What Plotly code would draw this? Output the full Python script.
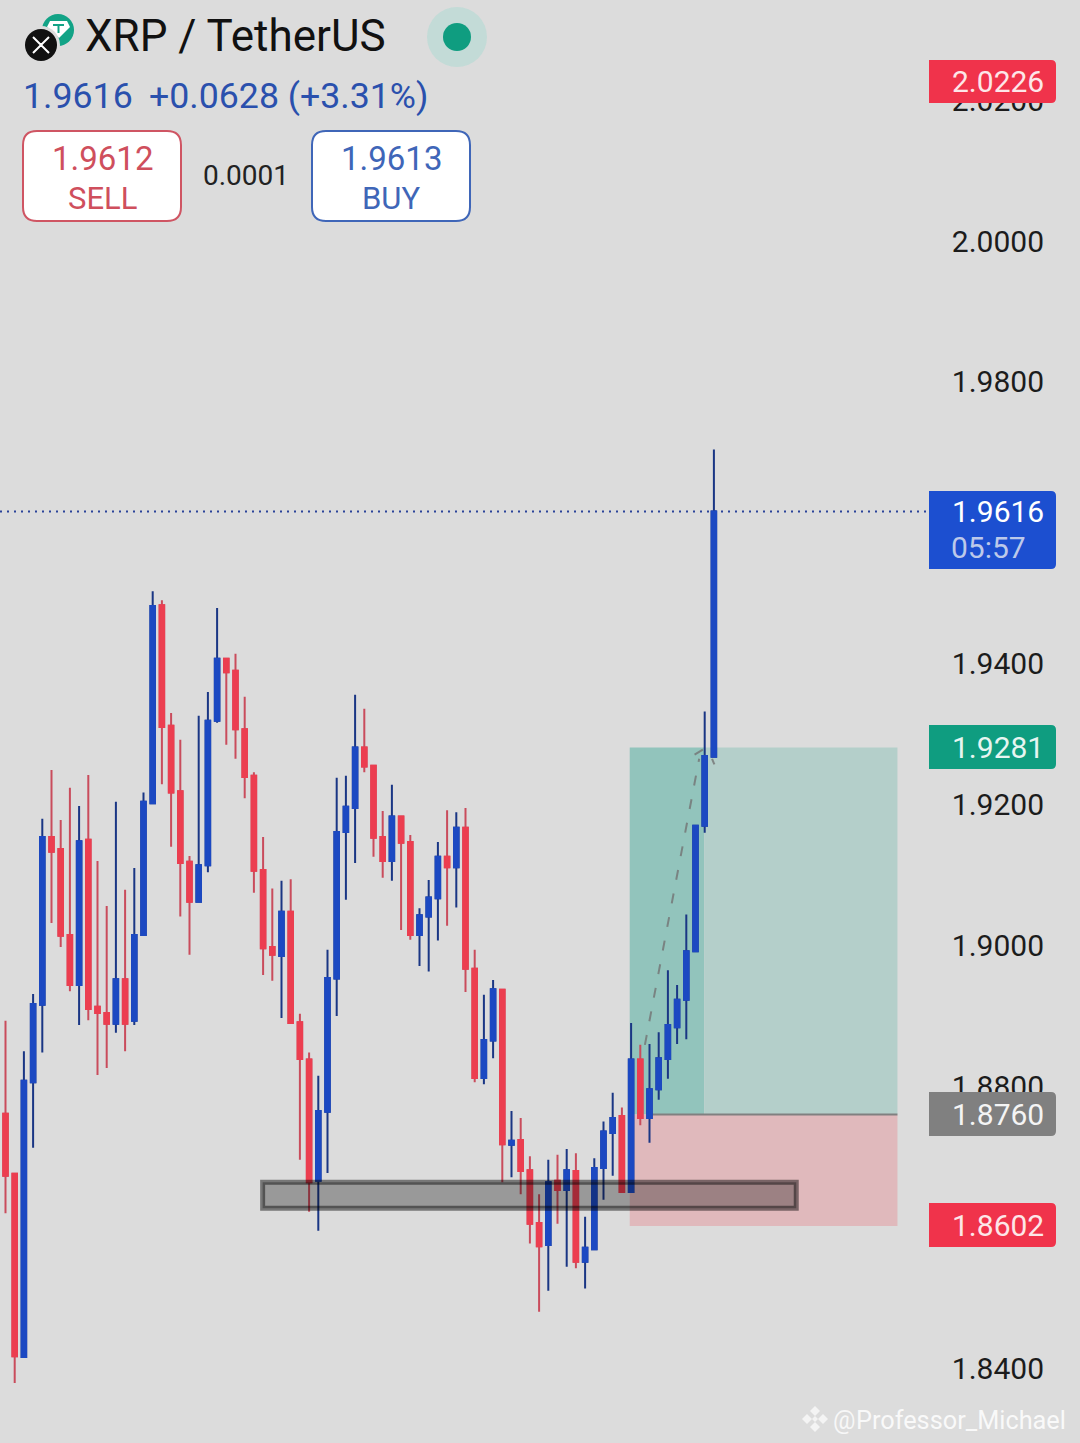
import plotly.graph_objects as go

WIDTH, HEIGHT = 1080, 1443

opens = [1.8761,1.8676,1.8416,1.8806,1.8916,1.9154,1.9137,1.9015,1.8944,1.9150,
         1.8913,1.8904,1.8889,1.8952,1.8893,1.9015,1.9202,1.9483,1.9312,1.9219,
         1.9119,1.9062,1.9114,1.9319,1.9407,1.9390,1.9307,1.9241,1.9107,1.8998,
         1.8985,1.9048,1.8891,1.8838,1.8666,1.8764,1.8953,1.9161,1.9195,1.9281,
         1.9255,1.9154,1.9120,1.9183,1.9147,1.9015,1.9041,1.9067,1.9126,1.9111,
         1.9167,1.8967,1.8812,1.8865,1.8937,1.8717,1.8724,1.8681,1.8606,1.8575,
         1.8666,1.8653,1.8680,1.8551,1.8569,1.8684,1.8734,1.8758,1.8650,1.8838,
         1.8755,1.8796,1.8839,1.8884,1.8923,1.8992,1.9170,1.9268]
closes = [1.8673,1.8417,1.8808,1.8917,1.9154,1.9133,1.9014,1.8944,1.9148,1.8910,
          1.8904,1.8889,1.8952,1.8889,1.9015,1.9204,1.9482,1.9310,1.9217,1.9117,
          1.9062,1.9114,1.9319,1.9407,1.9388,1.9307,1.9239,1.9106,1.8996,1.8987,
          1.9048,1.8890,1.8839,1.8664,1.8765,1.8954,1.9161,1.9197,1.9281,1.9254,
          1.9153,1.9120,1.9183,1.9146,1.9015,1.9043,1.9068,1.9126,1.9111,1.9167,
          1.8967,1.8812,1.8866,1.8938,1.8718,1.8723,1.8680,1.8605,1.8573,1.8664,
          1.8653,1.8681,1.8551,1.8571,1.8684,1.8736,1.8755,1.8650,1.8838,1.8755,
          1.8796,1.8840,1.8887,1.8923,1.8992,1.9170,1.9269,1.9616]
highs = [1.8893,1.8676,1.8850,1.8931,1.9180,1.9249,1.9178,1.9224,1.9198,1.9242,
         1.9120,1.9056,1.9204,1.9079,1.9110,1.9217,1.9503,1.9490,1.9330,1.9292,
         1.9127,1.9326,1.9360,1.9479,1.9407,1.9414,1.9353,1.9246,1.9154,1.9081,
         1.9092,1.9094,1.8903,1.8848,1.8815,1.8994,1.9238,1.9241,1.9356,1.9336,
         1.9255,1.9191,1.9228,1.9183,1.9157,1.9053,1.9093,1.9147,1.9192,1.9189,
         1.9195,1.8994,1.8930,1.8951,1.8937,1.8765,1.8755,1.8701,1.8647,1.8696,
         1.8703,1.8711,1.8705,1.8615,1.8698,1.8750,1.8791,1.8770,1.8890,1.8859,
         1.8860,1.8877,1.8965,1.8944,1.9044,1.9170,1.9332,1.9704]
lows = [1.8620,1.8379,1.8416,1.8713,1.8848,1.9032,1.8998,1.8935,1.8887,1.8894,
        1.8816,1.8826,1.8876,1.8850,1.8887,1.9015,1.9202,1.9229,1.9140,1.9041,
        1.8987,1.9062,1.9104,1.9316,1.9285,1.9265,1.9209,1.9075,1.8958,1.8950,
        1.8897,1.8890,1.8696,1.8622,1.8595,1.8677,1.8900,1.9065,1.9117,1.9246,
        1.9126,1.9096,1.9092,1.9022,1.9008,1.8971,1.8963,1.9007,1.9028,1.9054,
        1.8934,1.8806,1.8803,1.8840,1.8664,1.8671,1.8647,1.8577,1.8480,1.8510,
        1.8605,1.8544,1.8542,1.8513,1.8569,1.8639,1.8673,1.8650,1.8650,1.8745,
        1.8720,1.8781,1.8811,1.8860,1.8867,1.8992,1.9160,1.9268]
candle_index = list(range(len(opens)))

price_ticks = [1.84, 1.88, 1.90, 1.92, 1.94, 1.98, 2.00, 2.02]
last_price = 1.9616
take_profit = 1.9281
entry_price = 1.8760
stop_loss = 1.8602
supply_low, supply_high = 1.8627, 1.8664
zone_start, zone_split, zone_end = 67.85, 75.95, 96.95
demand_start, demand_end = 27.95, 85.95
path_x = [69.5, 75.4]
path_y = [1.8859, 1.9265]
arrow_x = [74.9, 75.8, None, 76.8, 77.05]
arrow_y = [1.9271, 1.9278, None, 1.9265, 1.9257]

BG = "#dcdcdc"
BLUE, RED = "#1c49c2", "#ec3e50"
BLUE_WICK, RED_WICK = "#1a3684", "#c94c5c"
GREEN = "#0f9d80"


def fx(x):
    return x / WIDTH


def fy(y):
    return 1 - y / HEIGHT


def rounded(x0, y0, x1, y1, r_left, r_right):
    """Path of a rounded box given in window pixels, as paper fractions."""
    p = lambda x, y: f"{fx(x):.5f},{fy(y):.5f}"
    return (
        f"M{p(x0 + r_left, y0)} L{p(x1 - r_right, y0)} Q{p(x1, y0)} {p(x1, y0 + r_right)} "
        f"L{p(x1, y1 - r_right)} Q{p(x1, y1)} {p(x1 - r_right, y1)} L{p(x0 + r_left, y1)} "
        f"Q{p(x0, y1)} {p(x0, y1 - r_left)} L{p(x0, y0 + r_left)} Q{p(x0, y0)} {p(x0 + r_left, y0)} Z"
    )


def box(x0, y0, x1, y1, fill, line=None, lw=0, rl=0, rr=5, layer="above"):
    return dict(type="path", xref="paper", yref="paper", path=rounded(x0, y0, x1, y1, rl, rr),
                fillcolor=fill, line=dict(color=line or fill, width=lw), layer=layer)


def circle(cx, cy, r, fill):
    return dict(type="circle", xref="paper", yref="paper", x0=fx(cx - r), x1=fx(cx + r),
                y0=fy(cy + r), y1=fy(cy - r), fillcolor=fill, line=dict(width=0), layer="above")


def poly(points, fill=None, line=None, lw=0):
    d = "M" + " L".join(f"{fx(x):.5f},{fy(y):.5f}" for x, y in points)
    if fill:
        d += " Z"
    return dict(type="path", xref="paper", yref="paper", path=d, fillcolor=fill or "rgba(0,0,0,0)",
                line=dict(color=line or "rgba(0,0,0,0)", width=lw), layer="above")


def label(x, y, text, size, color, anchor="left", font="Roboto"):
    return dict(xref="paper", yref="paper", x=fx(x), y=fy(y), text=text, showarrow=False,
                xanchor=anchor, yanchor="middle", borderpad=0,
                font=dict(family=font, size=size, color=color))


fig = go.Figure()

fig.add_trace(go.Scatter(x=path_x, y=path_y, mode="lines", hoverinfo="skip", showlegend=False,
                         line=dict(color="rgba(115,115,115,0.8)", width=2, dash="10px,14px")))
fig.add_trace(go.Scatter(x=arrow_x, y=arrow_y, mode="lines", hoverinfo="skip", showlegend=False,
                         line=dict(color="rgba(115,115,115,0.8)", width=2)))

# wicks, with the box outline hidden under the body trace below
fig.add_trace(go.Candlestick(x=candle_index, open=opens, high=highs, low=lows, close=closes,
                             whiskerwidth=0, hoverinfo="skip", showlegend=False,
                             increasing=dict(line=dict(color=BLUE_WICK, width=2), fillcolor=BLUE),
                             decreasing=dict(line=dict(color=RED_WICK, width=2), fillcolor=RED)))
# bodies
fig.add_trace(go.Candlestick(x=candle_index, open=opens, close=closes,
                             high=[max(o, c) for o, c in zip(opens, closes)],
                             low=[min(o, c) for o, c in zip(opens, closes)],
                             whiskerwidth=0, hoverinfo="skip", showlegend=False,
                             increasing=dict(line=dict(color=BLUE, width=2), fillcolor=BLUE),
                             decreasing=dict(line=dict(color=RED, width=2), fillcolor=RED)))

shapes = [
    dict(type="rect", xref="x", yref="y", x0=zone_start, x1=zone_split, y0=entry_price, y1=take_profit,
         fillcolor="#92c4bc", line=dict(width=0), layer="below"),
    dict(type="rect", xref="x", yref="y", x0=zone_split, x1=zone_end, y0=entry_price, y1=take_profit,
         fillcolor="#b4cfca", line=dict(width=0), layer="below"),
    dict(type="rect", xref="x", yref="y", x0=zone_start, x1=zone_end, y0=stop_loss, y1=entry_price,
         fillcolor="#e0b9bc", line=dict(width=0), layer="below"),
    dict(type="line", xref="x", yref="y", x0=zone_start + 2, x1=zone_end, y0=entry_price, y1=entry_price,
         line=dict(color="#808080", width=2), layer="below"),
    dict(type="line", xref="paper", yref="y", x0=0, x1=fx(929), y0=last_price, y1=last_price,
         line=dict(color="#2a4399", width=2, dash="2px,5px"), layer="below"),
    dict(type="rect", xref="x", yref="y", x0=demand_start, x1=demand_end, y0=supply_low, y1=supply_high,
         fillcolor="rgba(0,0,0,0.3)", line=dict(color="rgba(0,0,0,0.46)", width=5), layer="above"),
    # price tags
    box(929, 60, 1056, 103, "#f0334b"),
    box(929, 491, 1056, 569, "#1c4fd0"),
    box(929, 725, 1056, 769, GREEN),
    box(929, 1092, 1056, 1136, "#808080"),
    box(929, 1203, 1056, 1247, "#f0334b"),
    # sell and buy buttons
    box(23, 131, 181, 221, "#ffffff", "#cf5563", 2, 14, 14),
    box(312, 131, 470, 221, "#ffffff", "#3f66b8", 2, 14, 14),
    # live marker
    circle(457, 37, 30, "#c3dbd7"),
    circle(457, 37, 14, GREEN),
    # coin logos
    circle(58, 30, 16, "#12a386"),
    poly([(50, 21), (67, 21), (70, 27), (59, 38), (47, 27)], fill="#ffffff"),
    poly([(53, 25), (64, 25)], line="#12a386", lw=2),
    poly([(58.5, 25), (58.5, 33)], line="#12a386", lw=2),
    circle(41, 45, 19, BG),
    circle(41, 45, 16, "#111111"),
    poly([(33, 37), (40, 44), (42, 44), (49, 37)], line="#ffffff", lw=2),
    poly([(33, 53), (40, 46), (42, 46), (49, 53)], line="#ffffff", lw=2),
    # watermark mark
    poly([(815, 1406), (820, 1411), (815, 1416), (810, 1411)], fill="#f4f4f4"),
    poly([(815, 1422), (820, 1427), (815, 1432), (810, 1427)], fill="#f4f4f4"),
    poly([(807, 1414), (812, 1419), (807, 1424), (802, 1419)], fill="#f4f4f4"),
    poly([(823, 1414), (828, 1419), (823, 1424), (818, 1419)], fill="#f4f4f4"),
    poly([(815, 1416), (818, 1419), (815, 1422), (812, 1419)], fill="#f4f4f4"),
]

annotations = [
    label(83.5, 36, "XRP / TetherUS", 44, "#111111"),
    label(21.5, 96, "1.9616", 35.7, "#2a50ad"),
    label(147.5, 96, "+0.0628 (+3.31%)", 35.7, "#2a50ad"),
    label(102, 158, "1.9612", 33, "#cf4f5d", "center"),
    label(102, 198, "SELL", 31, "#cf4f5d", "center"),
    label(246, 175, "0.0001", 28, "#222222", "center"),
    label(391, 158, "1.9613", 33, "#3f66b8", "center"),
    label(391, 198, "BUY", 31, "#3f66b8", "center"),
    label(1044.5, 82, "2.0226", 30, "#fde6e8", "right"),
    label(1044.5, 512, "1.9616", 30, "#ffffff", "right"),
    label(950, 547, "05:57", 30, "#bcc9ea", "left"),
    label(1044.5, 747, "1.9281", 30, "#e6f5f1", "right"),
    label(1044.5, 1114, "1.8760", 30, "#f4f4f4", "right"),
    label(1044.5, 1225, "1.8602", 30, "#fde6e8", "right"),
    label(844, 1420, "@", 25, "rgba(255,255,255,0.8)", "center"),
    label(1067, 1420, "Professor_Michael", 25.3, "rgba(255,255,255,0.85)", "right"),
]

fig.update_layout(
    width=WIDTH, height=HEIGHT,
    margin=dict(l=0, r=0, t=0, b=0),
    paper_bgcolor=BG, plot_bgcolor=BG,
    showlegend=False, hovermode=False, boxmode="overlay",
    shapes=shapes, annotations=annotations,
    xaxis=dict(range=[-0.598, 116.794], domain=[0, 1], visible=False, rangeslider=dict(visible=False),
               fixedrange=True),
    yaxis=dict(range=[1.82938, 2.03421], domain=[0, 1], anchor="free", position=fx(1044), side="left",
               tickvals=price_ticks, ticktext=[f"{t:.4f}" for t in price_ticks],
               showgrid=False, zeroline=False, showline=False, ticks="", fixedrange=True,
               tickfont=dict(family="Roboto", size=30, color="#1c1c1c")),
    font=dict(family="Roboto"),
)

fig.write_html("out.html", config=dict(displayModeBar=False),
               post_script="document.body.style.margin='0';document.body.style.overflow='hidden';")
